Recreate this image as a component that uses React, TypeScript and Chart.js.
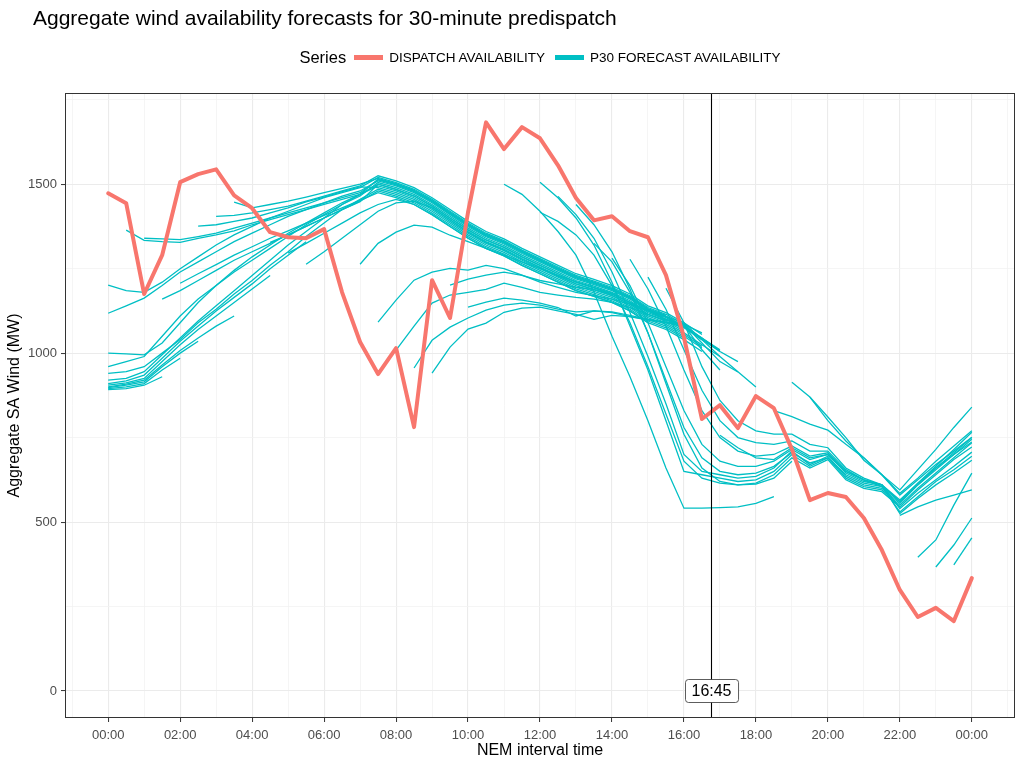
import React, { useEffect, useRef } from "react";
import { Chart, registerables } from "chart.js";

Chart.register(...registerables);

const FONT = '"Liberation Sans", Arial, Helvetica, sans-serif';
const TITLE = "Aggregate wind availability forecasts for 30-minute predispatch";
const X_TITLE = "NEM interval time";
const Y_TITLE = "Aggregate SA Wind (MW)";
const LEGEND_TITLE = "Series";
const SERIES_NAMES = ["DISPATCH AVAILABILITY", "P30 FORECAST AVAILABILITY"];
const SERIES_COLORS = ["#F8766D", "#00BFC4"];
const STEP_MIN = 30;
const MARKER_MIN = 1005;
const MARKER_LABEL = "16:45";

// Dispatch availability, one value per 30-min interval from 00:00 to 00:00 next day
const DISPATCH = [
  1473, 1444, 1175, 1290, 1506, 1530, 1544, 1467, 1429, 1358, 1343, 1340, 1367,
  1180, 1033, 938, 1015, 781, 1216, 1104, 1417, 1683, 1604, 1669, 1636, 1556,
  1459, 1393, 1405, 1361, 1343, 1231, 1047, 805, 846, 778, 873, 837, 716, 565,
  586, 574, 512, 417, 299, 219, 246, 207, 334,
];

// P30 forecast runs: [first interval index, values per 30-min interval]
const P30_RUNS: [number, number[]][] = [
  [0, [892, 895, 905, 930]],
  [0, [895, 900, 910, 950, 985]],
  [0, [898, 905, 915, 960, 1000, 1035]],
  [0, [900, 908, 920, 965, 1008, 1045, 1080, 1110]],
  [0, [905, 912, 925, 975, 1025, 1070, 1110, 1150, 1190, 1230]],
  [0, [910, 918, 935, 985, 1035, 1080, 1125, 1165, 1205, 1250, 1290, 1330]],
  [0, [920, 925, 945, 995, 1045, 1095, 1140, 1185, 1230, 1275, 1320, 1360, 1400, 1440, 1470,
       1495, 1480, 1460, 1430, 1395, 1360, 1330, 1308, 1280, 1255, 1230, 1205, 1188, 1170, 1145, 1110, 1090, 1060, 1025, 990]],
  [0, [940, 945, 960, 1000, 1040, 1090, 1130, 1175, 1215, 1260, 1300, 1345, 1385, 1425, 1455,
       1485, 1470, 1450, 1420, 1385, 1350, 1320, 1298, 1270, 1245, 1220, 1195, 1178, 1160, 1135, 1100, 1080, 1050, 1015]],
  [0, [960, 975, 990, 1050, 1110, 1160, 1200, 1240, 1275, 1310, 1345, 1380, 1410, 1440, 1465,
       1505, 1490, 1470, 1440, 1405, 1370, 1340, 1318, 1290, 1265, 1240, 1215, 1198, 1180, 1155, 1120, 1100, 1070]],
  [0, [1000, 998, 995, 1030, 1090, 1150, 1200, 1245, 1285, 1320, 1355, 1385, 1415, 1445, 1470,
       1515, 1500, 1480, 1450, 1415, 1380, 1350, 1328, 1300, 1275, 1250, 1225, 1208, 1190, 1165, 1130, 1110, 1080, 1045, 1010]],
  [0, [1118, 1140, 1163, 1200, 1240, 1270, 1300, 1330, 1355, 1380, 1405, 1425, 1445, 1465, 1480,
       1510, 1495, 1475, 1445, 1410, 1375, 1345, 1323, 1295, 1270, 1245, 1220, 1203, 1185, 1160, 1125, 1105, 1075, 1040, 1005, 975]],
  [0, [1201, 1185, 1180, 1210, 1250, 1285, 1320, 1350, 1375, 1400, 1420, 1440, 1460, 1475, 1490,
       1520, 1505, 1485, 1455, 1420, 1385, 1355, 1333, 1305, 1280, 1255, 1230, 1213, 1195, 1170, 1135, 1115, 1085]],
  [1, [1364, 1334, 1330, 1328, 1340, 1350, 1362, 1380, 1395, 1410, 1425, 1440, 1455, 1470,
       1500, 1485, 1465, 1435, 1400, 1365, 1335, 1313, 1285, 1260, 1235, 1210, 1193, 1175, 1150, 1115, 1095, 1065]],
  [2, [1340, 1338, 1336, 1345, 1355, 1370, 1385, 1400, 1415, 1430, 1445, 1460, 1475,
       1513, 1498, 1478, 1448, 1413, 1378, 1348, 1326, 1298, 1273, 1248, 1223, 1206, 1188, 1163, 1128, 1108, 1078, 1043, 1008]],
  [5, [1376, 1380, 1390, 1400, 1415, 1430, 1448, 1462, 1478, 1492,
       1490, 1475, 1455, 1425, 1390, 1355, 1325, 1303, 1275, 1250, 1225, 1200, 1183, 1165, 1140, 1105, 1085, 1055, 1020]],
  [6, [1405, 1408, 1415, 1425, 1435, 1450, 1465, 1480, 1495,
       1525, 1510, 1490, 1460, 1425, 1390, 1360, 1338, 1310, 1285, 1260, 1235, 1218, 1200, 1175, 1140, 1120, 1090, 1055]],
  [7, [1447, 1430, 1440, 1450, 1462, 1475, 1488, 1500,
       1517, 1502, 1482, 1452, 1417, 1382, 1352, 1330, 1302, 1277, 1252, 1227, 1210, 1192, 1167, 1132, 1112]],
  [3, [1160, 1185, 1215, 1245, 1275, 1300, 1325, 1350, 1375, 1400, 1425, 1450,
       1480, 1465, 1445, 1415, 1380, 1345, 1315, 1293, 1265, 1240, 1215, 1190, 1173, 1155, 1130, 1095, 1075, 1045]],
  [4, [1207, 1235, 1262, 1290, 1315, 1340, 1362, 1385, 1408, 1430, 1452,
       1475, 1460, 1440, 1410, 1375, 1340, 1310, 1288, 1260, 1235, 1210, 1185, 1168, 1150, 1125, 1090, 1070, 1040, 1005]],
  [9, [1328, 1350, 1375, 1400, 1425, 1448,
       1500, 1485, 1465, 1435, 1400, 1365, 1335, 1313, 1285, 1260, 1235, 1210, 1193, 1175, 1150, 1115, 1095]],
  [10, [1296, 1325, 1355, 1385, 1415,
        1440, 1455, 1440, 1410, 1375, 1340, 1310, 1288, 1260, 1235, 1210, 1185, 1168, 1150, 1125, 1090]],
  [11, [1263, 1300, 1340, 1380,
        1420, 1445, 1450, 1430, 1395, 1358, 1328, 1305, 1278, 1253, 1228, 1205, 1188, 1170, 1145, 1110]],
  [14, [1263, 1325, 1358, 1379, 1373, 1349, 1330, 1310, 1290, 1270, 1250, 1230, 1212, 1195, 1178, 1150, 1125, 1100, 1080, 1045, 1005]],
  [15, [1092, 1157, 1216, 1240, 1251, 1246, 1260, 1250, 1231, 1210, 1195, 1180, 1170, 1160, 1145, 1125, 1108, 1090, 1040, 990, 945, 900]],
  [16, [1009, 1080, 1148, 1172, 1180, 1189, 1207, 1195, 1180, 1172, 1165, 1160, 1150, 1135, 1115, 1098, 1085, 1030, 975, 944]],
  [17, [956, 1038, 1077, 1104, 1127, 1142, 1148, 1142, 1130, 1122, 1125, 1120, 1108, 1098, 1090, 1082, 1010, 950]],
  [18, [941, 1018, 1071, 1089, 1121, 1133, 1136, 1125, 1115, 1100, 1112, 1108, 1100, 1092, 1085, 1060]],
  [19, [1201, 1219, 1231, 1240, 1230, 1215, 1205, 1195, 1188, 1175, 1150, 1125, 1100, 1083, 1040]],
  [20, [1136, 1151, 1163, 1157, 1148, 1135, 1110, 1125, 1122, 1112, 1100, 1090, 1078]],
  [22, [1500, 1470, 1420, 1360, 1290, 1180, 1050, 930, 800, 660, 541, 541, 543, 545, 555, 575]],
  [24, [1506, 1460, 1400, 1320, 1210, 1080, 950, 800, 650, 640, 630, 620, 625, 650, 700, 665, 690, 630, 605, 595, 550, 600, 645, 690, 735]],
  [25, [1464, 1410, 1340, 1240, 1120, 990, 850, 700, 650, 640, 630, 635, 660, 710, 670, 695, 635, 610, 600, 555, 610, 660, 705, 750]],
  [26, [1440, 1380, 1300, 1190, 1060, 910, 760, 660, 620, 610, 615, 640, 690, 660, 685, 625, 600, 590, 545, 595, 640, 685, 722]],
  [24, [1417, 1390, 1350, 1290, 1200, 1090, 960, 820, 680, 630, 615, 610, 612, 630, 680]],
  [27, [1325, 1270, 1180, 1060, 920, 780, 690, 650, 640, 645, 665, 705, 675, 690, 640, 615, 605, 560, 615, 665, 715, 766]],
  [28, [1281, 1200, 1090, 960, 830, 730, 680, 665, 665, 680, 715, 685, 700, 645, 620, 610, 565, 615, 660, 700, 737]],
  [29, [1278, 1190, 1080, 950, 830, 750, 710, 695, 700, 725, 695, 705, 650, 625, 610, 540, 585, 625, 665, 707]],
  [30, [1225, 1130, 1010, 890, 800, 750, 735, 730, 740, 710, 710, 655, 625, 605, 530, 575, 620, 655, 695]],
  [31, [1192, 1090, 960, 860, 800, 770, 760, 760, 730, 720, 660, 630, 610, 525, 570, 610, 645, 683]],
  [34, [757, 720, 690, 685, 720, 690, 700, 650, 625, 610, 560, 610, 655, 700, 745]],
  [37, [830, 812, 790, 772, 730, 690, 640, 580, 625, 670, 710, 751]],
  [38, [914, 870, 811, 750, 683, 640, 595, 655, 715, 780, 840]],
  [39, [870, 800, 740, 690, 640, 585, 630, 680, 725, 770]],
  [44, [520, 545, 565, 580, 595]],
  [45, [396, 447, 550, 645]],
  [46, [367, 432, 512]],
  [47, [373, 453]],
];

const X_MIN = -72;
const X_MAX = 1512;
const Y_MIN = -80;
const Y_MAX = 1770;

const fmtTime = (m: number) => {
  const mm = ((m % 1440) + 1440) % 1440;
  const h = Math.floor(mm / 60);
  const mi = mm % 60;
  return `${String(h).padStart(2, "0")}:${String(mi).padStart(2, "0")}`;
};

const overlayPlugin = {
  id: "overlay",
  afterDraw(chart: any) {
    const { ctx, chartArea, scales } = chart;
    const { left, right, top, bottom } = chartArea;
    const px = Math.round(scales.x.getPixelForValue(MARKER_MIN)) + 0.5;
    ctx.save();
    ctx.strokeStyle = "#000000";
    ctx.lineWidth = 1.1;
    ctx.beginPath();
    ctx.moveTo(px, top);
    ctx.lineTo(px, bottom);
    ctx.stroke();

    const py = scales.y.getPixelForValue(0);
    ctx.font = `16px ${FONT}`;
    const tw = ctx.measureText(MARKER_LABEL).width;
    const w = tw + 13;
    const h = 23;
    const bx = Math.round(px - w / 2) + 0.5;
    const by = Math.round(py - h / 2) + 0.5;
    ctx.beginPath();
    if ((ctx as any).roundRect) (ctx as any).roundRect(bx, by, w, h, 3);
    else ctx.rect(bx, by, w, h);
    ctx.fillStyle = "#ffffff";
    ctx.fill();
    ctx.strokeStyle = "#333333";
    ctx.lineWidth = 0.8;
    ctx.stroke();
    ctx.fillStyle = "#000000";
    ctx.textAlign = "center";
    ctx.textBaseline = "middle";
    ctx.fillText(MARKER_LABEL, px, py + 1);

    ctx.strokeStyle = "#333333";
    ctx.lineWidth = 1;
    ctx.strokeRect(left + 0.5, top + 0.5, right - left - 1, bottom - top - 1);
    ctx.restore();
  },
};

export default function App() {
  const ref = useRef<HTMLCanvasElement>(null);

  useEffect(() => {
    if (!ref.current) return;
    Chart.defaults.font.family = FONT;
    const datasets: any[] = [
      {
        label: SERIES_NAMES[0],
        data: DISPATCH.map((v, i) => ({ x: i * STEP_MIN, y: v })),
        borderColor: SERIES_COLORS[0],
        backgroundColor: SERIES_COLORS[0],
        borderWidth: 4,
        borderJoinStyle: "round",
        borderCapStyle: "round",
        pointRadius: 0,
        tension: 0,
        order: 0,
      },
      ...P30_RUNS.map(([start, vals]) => ({
        label: SERIES_NAMES[1],
        data: vals.map((v, k) => ({ x: (start + k) * STEP_MIN, y: v })),
        borderColor: SERIES_COLORS[1],
        backgroundColor: SERIES_COLORS[1],
        borderWidth: 1.3,
        pointRadius: 0,
        tension: 0,
        order: 1,
      })),
    ];

    const chart = new Chart(ref.current, {
      type: "line",
      data: { datasets },
      options: {
        responsive: false,
        animation: false,
        devicePixelRatio: 1,
        events: [],
        layout: { padding: { left: 0, right: 9, top: 93, bottom: 0 } },
        plugins: {
          legend: { display: false },
          title: { display: false },
          tooltip: { enabled: false },
        },
        scales: {
          x: {
            type: "linear",
            min: X_MIN,
            max: X_MAX,
            afterFit: (s: any) => {
              s.height = 50;
            },
            border: { display: false },
            grid: {
              color: (c: any) => (c.tick && c.tick.value % 120 === 0 ? "#EBEBEB" : "#F3F3F3"),
              lineWidth: (c: any) => (c.tick && c.tick.value % 120 === 0 ? 1.1 : 0.8),
              tickColor: (c: any) => (c.tick && c.tick.value % 120 === 0 ? "#333333" : "rgba(0,0,0,0)"),
              tickLength: 4,
              tickWidth: 1,
            },
            ticks: {
              stepSize: 60,
              includeBounds: false,
              autoSkip: false,
              maxRotation: 0,
              padding: 6,
              color: "#4D4D4D",
              font: { size: 13, family: FONT },
              callback: (v: any) => (Number(v) % 120 === 0 ? fmtTime(Number(v)) : ""),
            },
            title: {
              display: true,
              text: X_TITLE,
              color: "#000000",
              font: { size: 16, family: FONT },
              padding: { top: 0, bottom: 8 },
            },
          },
          y: {
            type: "linear",
            min: Y_MIN,
            max: Y_MAX,
            afterFit: (s: any) => {
              s.width = 65;
            },
            border: { display: false },
            grid: {
              color: (c: any) => (c.tick && c.tick.value % 500 === 0 ? "#EBEBEB" : "#F3F3F3"),
              lineWidth: (c: any) => (c.tick && c.tick.value % 500 === 0 ? 1.1 : 0.8),
              tickColor: (c: any) => (c.tick && c.tick.value % 500 === 0 ? "#333333" : "rgba(0,0,0,0)"),
              tickLength: 4,
              tickWidth: 1,
            },
            ticks: {
              stepSize: 250,
              includeBounds: false,
              autoSkip: false,
              padding: 4,
              color: "#4D4D4D",
              font: { size: 13, family: FONT },
              callback: (v: any) => (Number(v) % 500 === 0 ? String(v) : ""),
            },
            title: {
              display: true,
              text: Y_TITLE,
              color: "#000000",
              font: { size: 16, family: FONT },
              padding: { top: 5, bottom: 0 },
            },
          },
        },
      },
      plugins: [overlayPlugin],
    } as any);
    return () => chart.destroy();
  }, []);

  const swatch = (color: string) => (
    <span style={{ display: "inline-block", width: 29, height: 5, background: color, marginRight: 6 }} />
  );

  return (
    <div
      style={{
        position: "fixed",
        left: 0,
        top: 0,
        width: 1024,
        height: 768,
        background: "#ffffff",
        fontFamily: FONT,
        color: "#000000",
      }}
    >
      <canvas ref={ref} width={1024} height={768} style={{ position: "absolute", left: 0, top: 0, width: 1024, height: 768 }} />
      <div style={{ position: "absolute", left: 33, top: 6, fontSize: 21, lineHeight: "24px", whiteSpace: "nowrap" }}>{TITLE}</div>
      <div
        style={{
          position: "absolute",
          left: 65,
          width: 950,
          top: 46,
          height: 22,
          display: "flex",
          justifyContent: "center",
          alignItems: "center",
          whiteSpace: "nowrap",
        }}
      >
        <span style={{ fontSize: 16.5, marginRight: 8 }}>{LEGEND_TITLE}</span>
        {swatch(SERIES_COLORS[0])}
        <span style={{ fontSize: 13.5, marginRight: 10 }}>{SERIES_NAMES[0]}</span>
        {swatch(SERIES_COLORS[1])}
        <span style={{ fontSize: 13.5 }}>{SERIES_NAMES[1]}</span>
      </div>
    </div>
  );
}
